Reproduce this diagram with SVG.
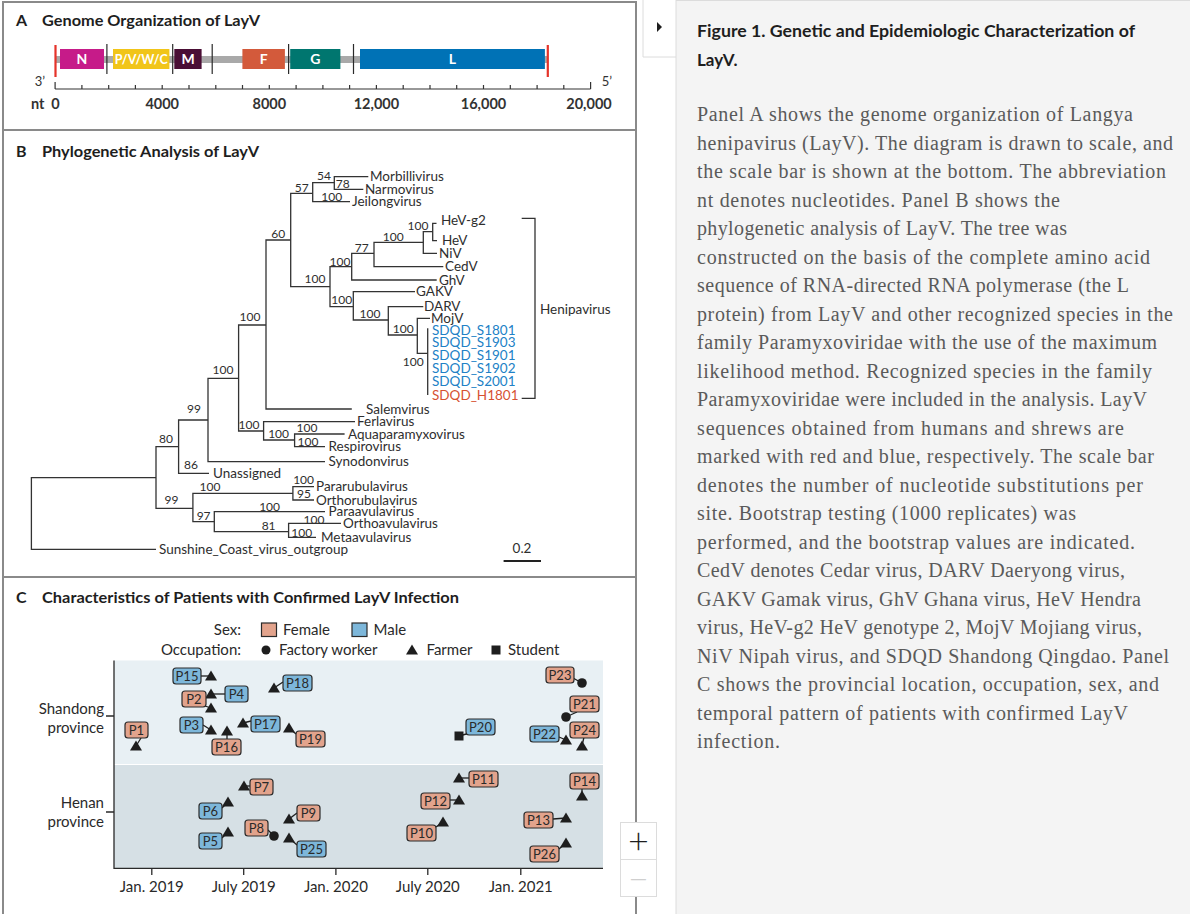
<svg xmlns="http://www.w3.org/2000/svg" width="1190" height="914" viewBox="0 0 1190 914">
<defs>
<style>
.ttl{font-family:Lato,"Open Sans","Liberation Sans",sans-serif;font-weight:700;font-size:16px;fill:#1e1e1e}
.br{fill:none;stroke:#333;stroke-width:1.3}
.leaf{font-family:Lato,"Open Sans",sans-serif;font-size:13.5px;fill:#2e2e2e}
.blue{fill:#2181c6}
.red{fill:#d65232}
.bs{font-family:Lato,"Open Sans",sans-serif;font-size:12px;fill:#2e2e2e;text-anchor:middle}
.gl{font-family:Lato,"Open Sans",sans-serif;font-weight:700;font-size:14px;fill:#fff;text-anchor:middle}
.ax{font-family:Lato,"Open Sans",sans-serif;font-weight:700;font-size:14.5px;fill:#333;text-anchor:middle}
.lg{font-family:Lato,"Open Sans",sans-serif;font-size:15px;fill:#2a2a2a}
.bf{fill:#e2a38c;stroke:#2a2a2a;stroke-width:1.2}
.bm{fill:#7db7da;stroke:#2a2a2a;stroke-width:1.2}
.pl{font-family:Lato,"Open Sans",sans-serif;font-size:13px;fill:#2a2a2a;text-anchor:middle}
.cn{fill:none;stroke:#1e1e1e;stroke-width:1.3}
.mk{fill:#1e1e1e}
.cap{font-family:"Liberation Serif","DejaVu Serif",serif;font-size:20px;fill:#5a5a5a}
.capt{font-family:Lato,"Open Sans",sans-serif;font-weight:700;font-size:17px;fill:#1e1e1e}
.pb{fill:none;stroke:#8a8a8a;stroke-width:2}
</style>
<path id="tri" class="mk" d="M0,-5.5 L6,4.5 L-6,4.5 Z"/>
</defs>

<rect x="0" y="0" width="1190" height="914" fill="#ffffff"/>

<!-- right caption panel -->
<g id="caption-panel">
<rect x="676" y="0" width="514" height="914" fill="#f4f4f4"/>
<path d="M676,0 V914 M643,0 V57 H676 M676,0.5 H1190" fill="none" stroke="#dcdcdc" stroke-width="1"/>
<path d="M657,22 L662,27 L657,32 Z" fill="#1e1e1e"/>
<text class="capt" x="697" y="37" textLength="438" lengthAdjust="spacingAndGlyphs">Figure 1. Genetic and Epidemiologic Characterization of</text>
<text class="capt" x="697" y="66">LayV.</text>
<text class="cap" x="697" y="121" textLength="436">Panel A shows the genome organization of Langya</text>
<text class="cap" x="697" y="149.5" textLength="476">henipavirus (LayV). The diagram is drawn to scale, and</text>
<text class="cap" x="697" y="178" textLength="469">the scale bar is shown at the bottom. The abbreviation</text>
<text class="cap" x="697" y="206.5" textLength="363">nt denotes nucleotides. Panel B shows the</text>
<text class="cap" x="697" y="235" textLength="370">phylogenetic analysis of LayV. The tree was</text>
<text class="cap" x="697" y="263.5" textLength="453">constructed on the basis of the complete amino acid</text>
<text class="cap" x="697" y="292" textLength="432">sequence of RNA-directed RNA polymerase (the L</text>
<text class="cap" x="697" y="320.5" textLength="476">protein) from LayV and other recognized species in the</text>
<text class="cap" x="697" y="349" textLength="460">family Paramyxoviridae with the use of the maximum</text>
<text class="cap" x="697" y="377.5" textLength="455">likelihood method. Recognized species in the family</text>
<text class="cap" x="697" y="406" textLength="450">Paramyxoviridae were included in the analysis. LayV</text>
<text class="cap" x="697" y="434.5" textLength="427">sequences obtained from humans and shrews are</text>
<text class="cap" x="697" y="463" textLength="457">marked with red and blue, respectively. The scale bar</text>
<text class="cap" x="697" y="491.5" textLength="446">denotes the number of nucleotide substitutions per</text>
<text class="cap" x="697" y="520" textLength="379">site. Bootstrap testing (1000 replicates) was</text>
<text class="cap" x="697" y="548.5" textLength="438">performed, and the bootstrap values are indicated.</text>
<text class="cap" x="697" y="577" textLength="428">CedV denotes Cedar virus, DARV Daeryong virus,</text>
<text class="cap" x="697" y="605.5" textLength="444">GAKV Gamak virus, GhV Ghana virus, HeV Hendra</text>
<text class="cap" x="697" y="634" textLength="445">virus, HeV-g2 HeV genotype 2, MojV Mojiang virus,</text>
<text class="cap" x="697" y="662.5" textLength="472">NiV Nipah virus, and SDQD Shandong Qingdao. Panel</text>
<text class="cap" x="697" y="691" textLength="462">C shows the provincial location, occupation, sex, and</text>
<text class="cap" x="697" y="719.5" textLength="431">temporal pattern of patients with confirmed LayV</text>
<text class="cap" x="697" y="748" textLength="83">infection.</text>
</g>

<!-- panel borders -->
<path class="pb" d="M3,914 V2 H636 V914 M3,130 H636 M3,577 H636"/>

<!-- ============ PANEL A ============ -->
<g id="panel-a">
<text class="ttl" x="16" y="26">A</text>
<text class="ttl" x="42" y="26" textLength="218" lengthAdjust="spacingAndGlyphs">Genome Organization of LayV</text>
<rect x="55" y="56" width="493" height="7" fill="#a9a9a9"/>
<g id="gene-N"><rect x="60" y="49" width="44" height="20" fill="#c61b89"/><text class="gl" x="82" y="64">N</text></g>
<g id="gene-P"><rect x="113" y="49" width="56.4" height="20" fill="#f1c519"/><text class="gl" x="141.2" y="64" textLength="53" lengthAdjust="spacingAndGlyphs">P/V/W/C</text></g>
<g id="gene-M"><rect x="174.3" y="49" width="27.3" height="20" fill="#4a0e35"/><text class="gl" x="188" y="64">M</text></g>
<g id="gene-F"><rect x="242.4" y="49" width="42.5" height="20" fill="#d35a3b"/><text class="gl" x="263.6" y="64">F</text></g>
<g id="gene-G"><rect x="290.2" y="49" width="50.2" height="20" fill="#00766f"/><text class="gl" x="315.3" y="64">G</text></g>
<g id="gene-L"><rect x="360" y="49" width="184.9" height="20" fill="#0072b6"/><text class="gl" x="452.4" y="64">L</text></g>
<path d="M106.9,44 V74 M172.7,44 V74 M212.2,44 V74 M288.6,44 V74 M353.5,44 V74" stroke="#2a2a2a" stroke-width="1.2"/>
<path d="M55.5,45 V77 M547.8,45 V77" stroke="#e5332a" stroke-width="2.2"/>
<path d="M55.1,89 H590.6 M55.1,89 V82 M81.9,89 V85 M108.7,89 V85 M135.4,89 V85 M162.2,89 V85 M189,89 V85 M215.8,89 V85 M242.5,89 V85 M269.3,89 V85 M296.1,89 V85 M322.9,89 V85 M349.6,89 V85 M376.4,89 V85 M403.2,89 V85 M430,89 V85 M456.7,89 V85 M483.5,89 V85 M510.3,89 V85 M537.1,89 V85 M563.8,89 V85 M590.6,89 V82" fill="none" stroke="#333" stroke-width="1.2"/>
<text x="40" y="86" font-family="Lato,sans-serif" font-size="13" fill="#333" text-anchor="middle">3’</text>
<text x="607" y="86" font-family="Lato,sans-serif" font-size="13" fill="#333" text-anchor="middle">5’</text>
<text class="ax" x="31" y="109" style="text-anchor:start">nt</text>
<text class="ax" x="55.5" y="109">0</text>
<text class="ax" x="162.2" y="109">4000</text>
<text class="ax" x="269.3" y="109">8000</text>
<text class="ax" x="376.4" y="109">12,000</text>
<text class="ax" x="483.5" y="109">16,000</text>
<text class="ax" x="589" y="109">20,000</text>
</g>

<!-- ============ PANEL B ============ -->
<g id="panel-b">
<text class="ttl" x="16" y="157">B</text>
<text class="ttl" x="42" y="157" textLength="217" lengthAdjust="spacingAndGlyphs">Phylogenetic Analysis of LayV</text>

<g id="tree-branches">
<path class="br" d="M156,477.7 H31.4 V549.3 H156"/>
<path class="br" d="M178.6,446.7 H156 V508.3 H192.9"/>
<path class="br" d="M208,420 H178.6 V473.3 H209"/>
<path class="br" d="M238.6,378.3 H208 V461.7 H325"/>
<path class="br" d="M266,325 H238.6 V431 H263.6"/>
<path class="br" d="M290.7,240 H266 V409 H351.8"/>
<path class="br" d="M312.7,193.3 H290.7 V286.7 H330"/>
<path class="br" d="M334.3,182.7 H312.7 V201.7 H350"/>
<path class="br" d="M368.3,176.7 H334.3 V189.3 H363.3"/>
<path class="br" d="M351.7,266.7 H330 V306.7 H353.3"/>
<path class="br" d="M374,253.3 H351.7 V280 H436.7"/>
<path class="br" d="M423.3,242.3 H374 V266.7 H443.3"/>
<path class="br" d="M432.7,231.7 H423.3 V253.3 H437"/>
<path class="br" d="M436.5,223.3 H432.7 V240.7 H437"/>
<path class="br" d="M415,291.7 H353.3 V320 H388.3"/>
<path class="br" d="M423.3,306.7 H388.3 V335 H417.3"/>
<path class="br" d="M430,318.3 H417.3 V353.3 H427.7"/>
<path class="br" d="M427.7,328.3 V395"/>
<path class="br" d="M355,421.7 H263.6 V440 H294.6"/>
<path class="br" d="M344.6,434 H294.6 V446.7 H325"/>
<path class="br" d="M292.9,493.3 H192.9 V521.7 H214.3"/>
<path class="br" d="M314,486.7 H292.9 V500 H314"/>
<path class="br" d="M325,511.7 H214.3 V531.7 H288.6"/>
<path class="br" d="M341,523.3 H288.6 V537.3 H316"/>
<path class="br" d="M521.7,218.3 H535 V398.3 H521.7"/>
<path d="M503.6,561 H541" stroke="#222" stroke-width="2"/>
</g>

<g id="leaves">
<text class="leaf" x="370" y="181">Morbillivirus</text>
<text class="leaf" x="365" y="193.8">Narmovirus</text>
<text class="leaf" x="352" y="206.2">Jeilongvirus</text>
<text class="leaf" x="441" y="224.5">HeV-g2</text>
<text class="leaf" x="442" y="245.2">HeV</text>
<text class="leaf" x="439" y="257.8">NiV</text>
<text class="leaf" x="445" y="271.2">CedV</text>
<text class="leaf" x="439" y="284.5">GhV</text>
<text class="leaf" x="416" y="296.2">GAKV</text>
<text class="leaf" x="424" y="310.5">DARV</text>
<text class="leaf" x="431" y="322.8">MojV</text>
<text class="leaf blue" x="432" y="334.5">SDQD_S1801</text>
<text class="leaf blue" x="432" y="347.2">SDQD_S1903</text>
<text class="leaf blue" x="432" y="359.8">SDQD_S1901</text>
<text class="leaf blue" x="432" y="373.2">SDQD_S1902</text>
<text class="leaf blue" x="432" y="386.2">SDQD_S2001</text>
<text class="leaf red" x="432" y="399.5">SDQD_H1801</text>
<text class="leaf" x="540" y="313.5">Henipavirus</text>
<text class="leaf" x="366" y="413.5">Salemvirus</text>
<text class="leaf" x="357" y="426.2">Ferlavirus</text>
<text class="leaf" x="348" y="438.5">Aquaparamyxovirus</text>
<text class="leaf" x="328.6" y="451.2">Respirovirus</text>
<text class="leaf" x="328.6" y="466.2">Synodonvirus</text>
<text class="leaf" x="213" y="477.8">Unassigned</text>
<text class="leaf" x="316" y="491.2">Pararubulavirus</text>
<text class="leaf" x="316" y="504.5">Orthorubulavirus</text>
<text class="leaf" x="328.6" y="516.2">Paraavulavirus</text>
<text class="leaf" x="343" y="527.8">Orthoavulavirus</text>
<text class="leaf" x="321" y="541.8">Metaavulavirus</text>
<text class="leaf" x="159" y="553.8">Sunshine_Coast_virus_outgroup</text>
<text class="leaf" x="522" y="553" text-anchor="middle">0.2</text>
</g>

<g id="bootstrap">
<text class="bs" x="324" y="180.3">54</text>
<text class="bs" x="342.7" y="188.3">78</text>
<text class="bs" x="301.7" y="191.6">57</text>
<text class="bs" x="331.7" y="201">100</text>
<text class="bs" x="278.3" y="238.3">60</text>
<text class="bs" x="315" y="282.6">100</text>
<text class="bs" x="340" y="266">100</text>
<text class="bs" x="361.7" y="252.3">77</text>
<text class="bs" x="393.3" y="241">100</text>
<text class="bs" x="418" y="230.3">100</text>
<text class="bs" x="341.7" y="304.3">100</text>
<text class="bs" x="370" y="318.3">100</text>
<text class="bs" x="403.3" y="332.6">100</text>
<text class="bs" x="413.3" y="366">100</text>
<text class="bs" x="250" y="321">100</text>
<text class="bs" x="223" y="374.3">100</text>
<text class="bs" x="194" y="413.3">99</text>
<text class="bs" x="249" y="429.3">100</text>
<text class="bs" x="278.6" y="437.6">100</text>
<text class="bs" x="307" y="432.3">100</text>
<text class="bs" x="308" y="446">100</text>
<text class="bs" x="166" y="443.3">80</text>
<text class="bs" x="191" y="468.6">86</text>
<text class="bs" x="171.4" y="504.3">99</text>
<text class="bs" x="210" y="491">100</text>
<text class="bs" x="303.6" y="483.6">100</text>
<text class="bs" x="304" y="498.3">95</text>
<text class="bs" x="203.6" y="520.3">97</text>
<text class="bs" x="269.6" y="511">100</text>
<text class="bs" x="268.6" y="530.3">81</text>
<text class="bs" x="314" y="523.6">100</text>
<text class="bs" x="301.8" y="537">100</text>
</g>
</g>

<!-- ============ PANEL C ============ -->
<g id="panel-c">
<text class="ttl" x="16" y="603">C</text>
<text class="ttl" x="42" y="603" textLength="417" lengthAdjust="spacingAndGlyphs">Characteristics of Patients with Confirmed LayV Infection</text>

<g id="legend">
<text class="lg" x="241" y="634.5" text-anchor="end">Sex:</text>
<rect class="bf" x="261.5" y="623" width="15" height="13.5"/>
<text class="lg" x="283" y="634.5">Female</text>
<rect class="bm" x="352" y="623" width="15" height="13.5"/>
<text class="lg" x="373.5" y="634.5">Male</text>
<text class="lg" x="241" y="655" text-anchor="end">Occupation:</text>
<circle class="mk" cx="266" cy="650" r="4.5"/>
<text class="lg" x="279" y="655">Factory worker</text>
<use href="#tri" x="412" y="650"/>
<text class="lg" x="426.5" y="655">Farmer</text>
<rect class="mk" x="491.5" y="645.5" width="9" height="9"/>
<text class="lg" x="508" y="655">Student</text>
</g>

<g id="plot-area">
<rect x="114" y="660.5" width="489" height="104" fill="#e8f0f4"/>
<rect x="114" y="764.5" width="489" height="104" fill="#d6e0e5"/>
<path d="M603,764.5 H114" stroke="#ffffff" stroke-width="1.2"/>
<path d="M114,660.5 V868.3 H603 M106,716 H114 M106,812 H114 M151.8,868.3 V875 M243.7,868.3 V875 M335.9,868.3 V875 M427.8,868.3 V875 M520.8,868.3 V875" fill="none" stroke="#2a2a2a" stroke-width="1.3"/>
<text class="lg" x="104" y="714" text-anchor="end">Shandong</text>
<text class="lg" x="104" y="733" text-anchor="end">province</text>
<text class="lg" x="104" y="808" text-anchor="end">Henan</text>
<text class="lg" x="104" y="827" text-anchor="end">province</text>
<text class="lg" x="151.8" y="892" text-anchor="middle">Jan. 2019</text>
<text class="lg" x="243.7" y="892" text-anchor="middle">July 2019</text>
<text class="lg" x="335.9" y="892" text-anchor="middle">Jan. 2020</text>
<text class="lg" x="427.8" y="892" text-anchor="middle">July 2020</text>
<text class="lg" x="520.8" y="892" text-anchor="middle">Jan. 2021</text>
</g>

<g id="connectors">
<path class="cn" d="M201,676 H211"/>
<path class="cn" d="M274,688 L283,682"/>
<path class="cn" d="M573,678 L582,683"/>
<path class="cn" d="M211,694 H225"/>
<path class="cn" d="M205,706 L211,708"/>
<path class="cn" d="M566,717 L577,712"/>
<path class="cn" d="M141,738 L136,746"/>
<path class="cn" d="M203,725 L211,730"/>
<path class="cn" d="M227,731 V739"/>
<path class="cn" d="M243,723 L251,721"/>
<path class="cn" d="M289,728 L296,734"/>
<path class="cn" d="M459,736 L470,733"/>
<path class="cn" d="M559,737 L566,740"/>
<path class="cn" d="M584,737 L582,746"/>
<path class="cn" d="M244,786 H250"/>
<path class="cn" d="M459,778 H469"/>
<path class="cn" d="M582,789 V796"/>
<path class="cn" d="M450,800 H459"/>
<path class="cn" d="M222,808 L228,802"/>
<path class="cn" d="M289,819 L297,813"/>
<path class="cn" d="M553,819 L566,818"/>
<path class="cn" d="M436,827 L443,822"/>
<path class="cn" d="M268,830 L274,836"/>
<path class="cn" d="M222,838 L228,832"/>
<path class="cn" d="M289,838 L297,845"/>
<path class="cn" d="M559,849 L566,843"/>
</g>

<g id="P15"><rect class="bm" x="173" y="668" width="28" height="16" rx="3"/><text class="pl" x="187" y="680.5">P15</text><use href="#tri" x="211" y="676"/></g>
<g id="P18"><rect class="bm" x="283" y="675" width="29" height="16" rx="3"/><text class="pl" x="297.5" y="687.5">P18</text><use href="#tri" x="274" y="688"/></g>
<g id="P23"><rect class="bf" x="546" y="667" width="28" height="16" rx="3"/><text class="pl" x="560" y="679.5">P23</text><circle class="mk" cx="582" cy="683" r="4.8"/></g>
<g id="P4"><rect class="bm" x="225" y="686" width="23" height="16" rx="3"/><text class="pl" x="236.5" y="698.5">P4</text><use href="#tri" x="211" y="694"/></g>
<g id="P2"><rect class="bf" x="182" y="691" width="24" height="16" rx="3"/><text class="pl" x="194" y="703.5">P2</text><use href="#tri" x="211" y="708"/></g>
<g id="P21"><rect class="bf" x="570" y="696" width="29" height="16" rx="3"/><text class="pl" x="584.5" y="708.5">P21</text><circle class="mk" cx="566" cy="717" r="4.8"/></g>
<g id="P1"><rect class="bf" x="125" y="722" width="23" height="16" rx="3"/><text class="pl" x="136.5" y="734.5">P1</text><use href="#tri" x="136" y="746"/></g>
<g id="P3"><rect class="bm" x="180" y="717" width="23" height="16" rx="3"/><text class="pl" x="191.5" y="729.5">P3</text><use href="#tri" x="211" y="730"/></g>
<g id="P16"><rect class="bf" x="212" y="739" width="29" height="16" rx="3"/><text class="pl" x="226.5" y="751.5">P16</text><use href="#tri" x="227" y="731"/></g>
<g id="P17"><rect class="bm" x="251" y="716" width="29" height="16" rx="3"/><text class="pl" x="265.5" y="728.5">P17</text><use href="#tri" x="243" y="723"/></g>
<g id="P19"><rect class="bf" x="296" y="731" width="29" height="16" rx="3"/><text class="pl" x="310.5" y="743.5">P19</text><use href="#tri" x="289" y="728"/></g>
<g id="P20"><rect class="bm" x="466" y="719" width="29" height="16" rx="3"/><text class="pl" x="480.5" y="731.5">P20</text><rect class="mk" x="454.5" y="731.5" width="9" height="9"/></g>
<g id="P22"><rect class="bm" x="530" y="726" width="29" height="16" rx="3"/><text class="pl" x="544.5" y="738.5">P22</text><use href="#tri" x="566" y="740"/></g>
<g id="P24"><rect class="bf" x="570" y="722" width="29" height="16" rx="3"/><text class="pl" x="584.5" y="734.5">P24</text><use href="#tri" x="582" y="746"/></g>
<g id="P7"><rect class="bf" x="250" y="779" width="23" height="16" rx="3"/><text class="pl" x="261.5" y="791.5">P7</text><use href="#tri" x="244" y="786"/></g>
<g id="P11"><rect class="bf" x="469" y="771" width="29" height="16" rx="3"/><text class="pl" x="483.5" y="783.5">P11</text><use href="#tri" x="459" y="778"/></g>
<g id="P14"><rect class="bf" x="570" y="773" width="29" height="16" rx="3"/><text class="pl" x="584.5" y="785.5">P14</text><use href="#tri" x="582" y="796"/></g>
<g id="P12"><rect class="bf" x="421" y="793" width="29" height="16" rx="3"/><text class="pl" x="435.5" y="805.5">P12</text><use href="#tri" x="459" y="800"/></g>
<g id="P6"><rect class="bm" x="199" y="803" width="23" height="16" rx="3"/><text class="pl" x="210.5" y="815.5">P6</text><use href="#tri" x="228" y="802"/></g>
<g id="P9"><rect class="bf" x="297" y="805" width="23" height="16" rx="3"/><text class="pl" x="308.5" y="817.5">P9</text><use href="#tri" x="289" y="819"/></g>
<g id="P13"><rect class="bf" x="524" y="812" width="29" height="16" rx="3"/><text class="pl" x="538.5" y="824.5">P13</text><use href="#tri" x="566" y="818"/></g>
<g id="P10"><rect class="bf" x="407" y="825" width="29" height="16" rx="3"/><text class="pl" x="421.5" y="837.5">P10</text><use href="#tri" x="443" y="822"/></g>
<g id="P8"><rect class="bf" x="245" y="820" width="23" height="16" rx="3"/><text class="pl" x="256.5" y="832.5">P8</text><circle class="mk" cx="274" cy="836" r="4.8"/></g>
<g id="P5"><rect class="bm" x="199" y="833" width="23" height="16" rx="3"/><text class="pl" x="210.5" y="845.5">P5</text><use href="#tri" x="228" y="832"/></g>
<g id="P25"><rect class="bm" x="297" y="841" width="29" height="16" rx="3"/><text class="pl" x="311.5" y="853.5">P25</text><use href="#tri" x="289" y="838"/></g>
<g id="P26"><rect class="bf" x="530" y="846" width="29" height="16" rx="3"/><text class="pl" x="544.5" y="858.5">P26</text><use href="#tri" x="566" y="843"/></g>
</g>

<g id="zoom-control">
<rect x="620.5" y="822.5" width="36" height="74" fill="#ffffff" stroke="#dcdcdc" stroke-width="1"/>
<path d="M620.5,859.5 H656.5" stroke="#dcdcdc" stroke-width="1"/>
<text x="638.5" y="854" font-family="Lato,'Open Sans',sans-serif" font-size="36" font-weight="300" fill="#1e1e1e" text-anchor="middle">+</text>
<text x="638.5" y="892" font-family="Lato,'Open Sans',sans-serif" font-size="36" font-weight="300" fill="#cfcfcf" text-anchor="middle">−</text>
</g>
</svg>
